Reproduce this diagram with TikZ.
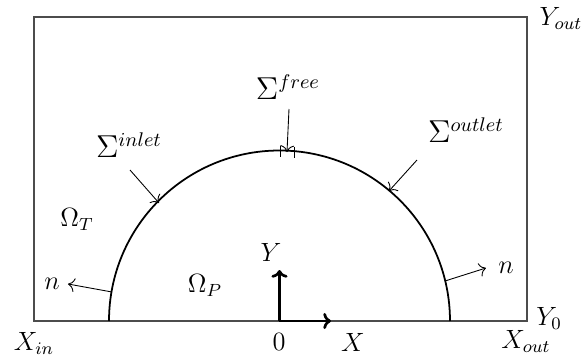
\documentclass[tikz,border=0pt]{standalone}
\usetikzlibrary{arrows.meta}
\begin{document}
\begin{tikzpicture}[x=0.4545pt,y=-0.4545pt,
  box/.style={draw=black!70,line width=0.6pt},
  surf/.style={draw=black,line width=0.8pt},
  thinarrow/.style={draw,line width=0.4pt,-{To[length=3pt]}},
  axis/.style={draw,line width=1.2pt,-{To[length=3.5pt]}},
  lbl/.style={inner sep=0pt,font=\fontsize{12}{14}\selectfont},
  siglbl/.style={inner sep=0pt,font=\fontsize{13.5}{16}\selectfont}]
\useasboundingbox (0,0) rectangle (584,360);
\coordinate (bl) at (34,321);
\coordinate (tr) at (527,17);
\draw[box] (bl) rectangle (tr);
\coordinate (O) at (279.5,321);
\draw[surf] (109,321) arc[start angle=180,end angle=360,radius=170.5];
% ticks
\coordinate (t1a) at (280,146); \coordinate (t1b) at (280,157);
\coordinate (t2a) at (294,147); \coordinate (t2b) at (294,158);
\draw[line width=0.4pt] (t1a) -- (t1b);
\draw[line width=0.4pt] (t2a) -- (t2b);
% labels
\node[siglbl] (sfree) at (288,87) {$\Sigma^{free}$};
\coordinate (sfs) at (289,109); \coordinate (sfe) at (287,152);
\draw[thinarrow] (sfs) -- (sfe);
\node[siglbl] (sin) at (129,145) {$\Sigma^{inlet}$};
\coordinate (sis) at (130,170); \coordinate (sie) at (159,203);
\draw[thinarrow] (sis) -- (sie);
\node[siglbl] (sout) at (466,130) {$\Sigma^{outlet}$};
\coordinate (sos) at (417,160); \coordinate (soe) at (389,191);
\draw[thinarrow] (sos) -- (soe);
\node[lbl] (OT) at (77,219) {$\Omega_T$};
\node[lbl] (OP) at (205,285) {$\Omega_P$};
\coordinate (nls) at (112,292); \coordinate (nle) at (68,284);
\draw[thinarrow] (nls) -- (nle);
\node[lbl] (nl) at (52,284) {$n$};
\coordinate (nrs) at (445,281); \coordinate (nre) at (486,268);
\draw[thinarrow] (nrs) -- (nre);
\node[lbl] (nr) at (506,268) {$n$};
% axes
\coordinate (ay) at (279.5,270); \coordinate (ax) at (331,321);
\draw[axis] (O) -- (ay);
\draw[axis] (O) -- (ax);
\node[lbl] (Y) at (271,252) {$Y$};
\node[lbl] (X) at (353,342) {$X$};
\node[lbl] (zero) at (279,342) {$0$};
\node[lbl] (Xin) at (34,343) {$X_{in}$};
\node[lbl] (Xout) at (526,341) {$X_{out}$};
\node[lbl] (Y0) at (549,318) {$Y_0$};
\node[lbl] (Yout) at (561,18) {$Y_{out}$};
\end{tikzpicture}
\end{document}
